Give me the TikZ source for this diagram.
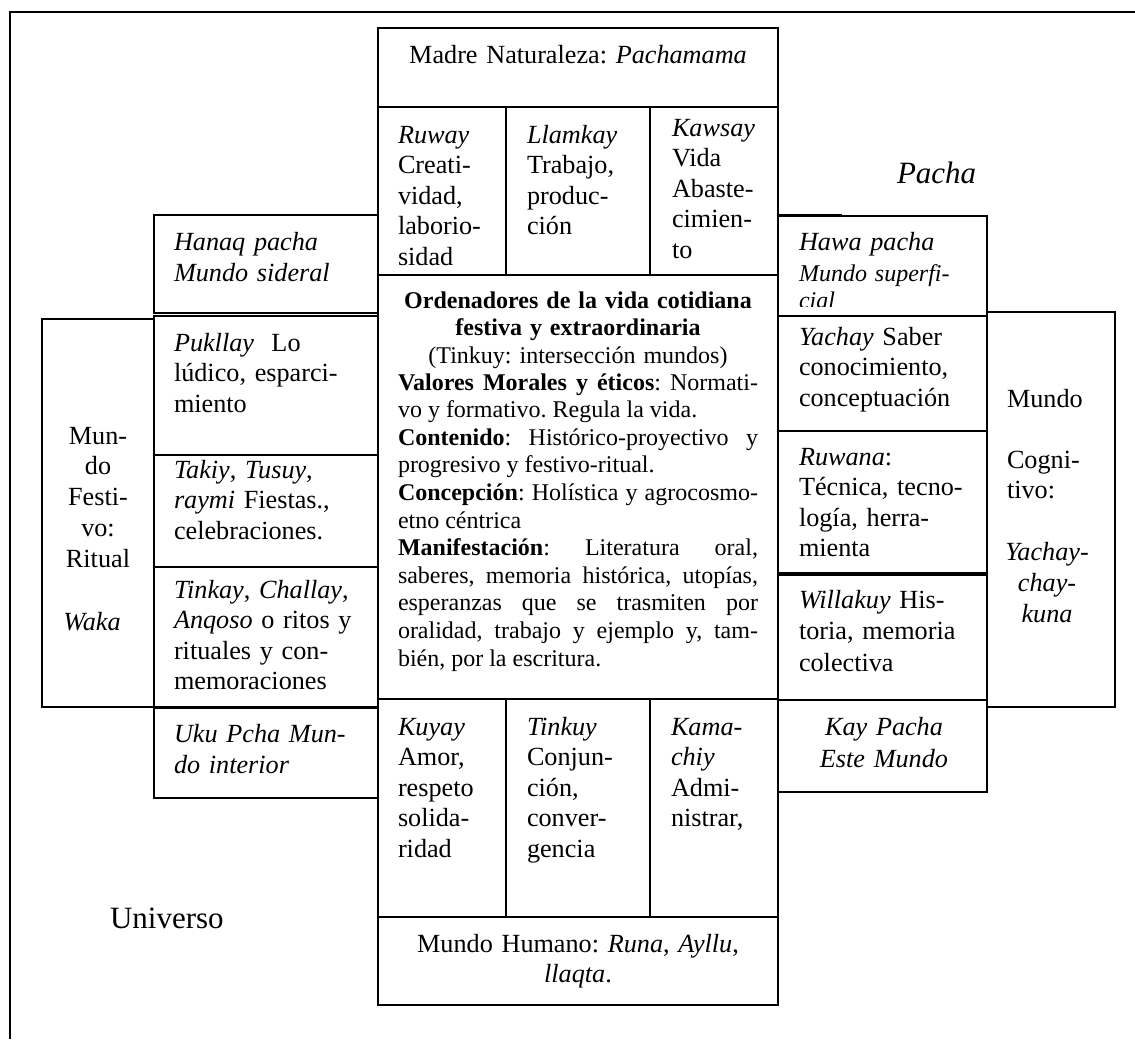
\documentclass[tikz,border=0pt]{standalone}
\usepackage{fontspec}
\setmainfont{Liberation Serif}
\usetikzlibrary{fit}
\tolerance=10000
\hbadness=10000
\frenchspacing
\begin{document}
\begin{tikzpicture}[x=1pt,y=-1pt,
  box/.style={draw, line width=1.5pt, inner sep=0pt, outer sep=0pt},
  rule/.style={line width=1.5pt},
  bodytxt/.style={inner sep=0pt, outer sep=0pt, anchor=base west, text width=200pt, align=left,
    font=\fontsize{26.2}{30.6}\selectfont},
  ctrtxt/.style={inner sep=0pt, outer sep=0pt, anchor=base, text width=110pt, align=center,
    font=\fontsize{26.2}{30.6}\selectfont},
  smalltxt/.style={inner sep=0pt, outer sep=0pt, font=\fontsize{24}{27.6}\selectfont},
  bigtxt/.style={inner sep=0pt, outer sep=0pt, anchor=base west, font=\fontsize{31}{36}\selectfont}
]
\frenchspacing
\useasboundingbox (0,0) rectangle (1135,1039);
% outer frame (top and left sides)
\coordinate (frTR) at (1135,12);
\coordinate (frTL) at (10,12);
\coordinate (frBL) at (10,1039);
\draw[rule] (frTR) -- (frTL) -- (frBL);

% central column
\node[box, fit={(378,28) (778,107)}] (madre) {};
\node[box, fit={(378,107) (506,275)}] (ruway) {};
\node[box, fit={(506,107) (650,275)}] (llamkay) {};
\node[box, fit={(650,107) (778,275)}] (kawsay) {};
\node[box, fit={(378,275) (778,699)}] (centro) {};
\node[box, fit={(378,699) (506,917)}] (kuyay) {};
\node[box, fit={(506,699) (650,917)}] (tinkuy) {};
\node[box, fit={(650,699) (778,917)}] (kama) {};
\node[box, fit={(378,917) (778,1005)}] (humano) {};

% left side
\node[box, fit={(154,215) (378,313)}] (hanaq) {};
\node[box, fit={(154,316) (378,455)}] (pukllay) {};
\node[box, fit={(154,455) (378,567)}] (takiy) {};
\node[box, fit={(154,567) (378,707)}] (tinkay) {};
\node[box, fit={(154,708) (378,798)}] (uku) {};
\node[box, fit={(42,319) (154,707)}] (festivo) {};

% right side
\coordinate (hwA) at (778,214.5);
\coordinate (hwB) at (842,214.5);
\draw[rule] (hwA) -- (hwB);
\node[box, fit={(778,216) (987,316)}] (hawa) {};
\node[box, fit={(778,316) (987,431)}] (yachay) {};
\node[box, fit={(778,431) (987,573)}] (ruwana) {};
\node[box, fit={(778,575) (987,700)}] (willakuy) {};
\node[box, fit={(778,700) (987,792)}] (kaypacha) {};
\node[box, fit={(987,312) (1115,707)}] (cognitivo) {};

% ---- texts ----
\node[ctrtxt, text width=390pt] (tMadre) at (578,63) {Madre Naturaleza: \textit{Pachamama}};
\node[bodytxt] (tRuway) at (398,143) {\textit{Ruway}\\Creati-\\vidad,\\laborio-\\sidad};
\node[bodytxt] (tLlamkay) at (527,143) {\textit{Llamkay}\\Trabajo,\\produc-\\ción};
\node[bodytxt] (tKawsay) at (672,136) {\textit{Kawsay}\\Vida\\Abaste-\\cimien-\\to};

\node[smalltxt, anchor=base, text width=390pt, align=center] (tHead) at (578,308)
  {\frenchspacing\textbf{Ordenadores de la vida cotidiana}\\\textbf{festiva y extraordinaria}\\(Tinkuy: intersección mundos)};
\node[smalltxt, anchor=base west, text width=360pt, align=justify] (tBody) at (398,390)
  {\frenchspacing\textbf{Valores Morales y éticos}: Normati-\linebreak vo y formativo. Regula la vida.\\
   \textbf{Contenido}: Histórico-proyectivo y\linebreak progresivo y festivo-ritual.\\
   \textbf{Concepción}: Holística y agrocosmo-\linebreak etno céntrica\\
   \textbf{Manifestación}: Literatura oral,\linebreak saberes, memoria histórica, utopías,\linebreak esperanzas que se trasmiten por\linebreak oralidad, trabajo y ejemplo y, tam-\linebreak bién, por la escritura.};

\node[bodytxt] (tKuyay) at (398,735) {\textit{Kuyay}\\Amor,\\respeto\\solida-\\ridad};
\node[bodytxt] (tTinkuy) at (527,735) {\textit{Tinkuy}\\Conjun-\\ción,\\conver-\\gencia};
\node[bodytxt] (tKama) at (671,735) {\textit{Kama-}\\\textit{chiy}\\Admi-\\nistrar,};
\node[ctrtxt, text width=390pt] (tHumano) at (578,952) {\frenchspacing Mundo Humano: \textit{Runa}, \textit{Ayllu},\\\textit{llaqta}.};

\node[bodytxt, font=\fontsize{26.2}{31.5}\selectfont\itshape] (tHanaq) at (174,250) {Hanaq pacha\\Mundo sideral};
\node[bodytxt] (tPukllay) at (174,351) {\textit{Pukllay}\ \ Lo\\lúdico, esparci-\\miento};
\node[bodytxt] (tTakiy) at (174,478) {\frenchspacing\textit{Takiy}, \textit{Tusuy},\\\textit{raymi} Fiestas.,\\celebraciones.};
\node[bodytxt] (tTinkay) at (174,598) {\frenchspacing\textit{Tinkay}, \textit{Challay},\\\textit{Anqoso} o ritos y\\rituales y con-\\memoraciones};
\node[bodytxt, font=\fontsize{26.2}{31}\selectfont\itshape] (tUku) at (174,742) {Uku Pcha Mun-\\do interior};
\node[ctrtxt, font=\fontsize{26.2}{30.75}\selectfont] (tFestivo) at (98,444) {Mun-\\do\\Festi-\\vo:\\Ritual};
\node[ctrtxt, font=\fontsize{26.2}{30.6}\selectfont\itshape] (tWaka) at (92,630) {Waka};

\node[bodytxt, font=\fontsize{26.2}{30.6}\selectfont\itshape] (tHawa) at (799,250) {Hawa pacha};
\begin{scope}
  \clip (778,216) rectangle (987,306);
  \node[smalltxt, anchor=base west, text width=180pt, align=left, font=\fontsize{24}{27.6}\selectfont\itshape] (tMundoSup) at (799,281) {Mundo superfi-\\cial};
\end{scope}
\node[bodytxt] (tYachay) at (799,345) {\frenchspacing\textit{Yachay} Saber\\conocimiento,\\conceptuación};
\node[bodytxt] (tRuwana) at (799,465) {\frenchspacing\textit{Ruwana}:\\Técnica, tecno-\\logía, herra-\\mienta};
\node[bodytxt, font=\fontsize{26.2}{31.5}\selectfont] (tWillakuy) at (799,608) {\frenchspacing\textit{Willakuy} His-\\toria, memoria\\colectiva};
\node[ctrtxt, text width=200pt, font=\fontsize{26.2}{32}\selectfont\itshape] (tKay) at (884,735) {Kay Pacha\\Este Mundo};

\node[bodytxt, text width=100pt] (tMundoC) at (1007,407) {Mundo};
\node[bodytxt, text width=100pt, font=\fontsize{26.2}{30}\selectfont] (tCogni) at (1007,468) {Cogni-\\tivo:};
\node[ctrtxt, font=\fontsize{26.2}{31.3}\selectfont\itshape] (tYach) at (1047,560) {Yachay-\\chay-\\kuna};

\node[bigtxt, font=\fontsize{31}{36}\selectfont\itshape] (tPacha) at (897,183) {Pacha};
\node[bigtxt] (tUniverso) at (110,928) {Universo};
\end{tikzpicture}
\end{document}
